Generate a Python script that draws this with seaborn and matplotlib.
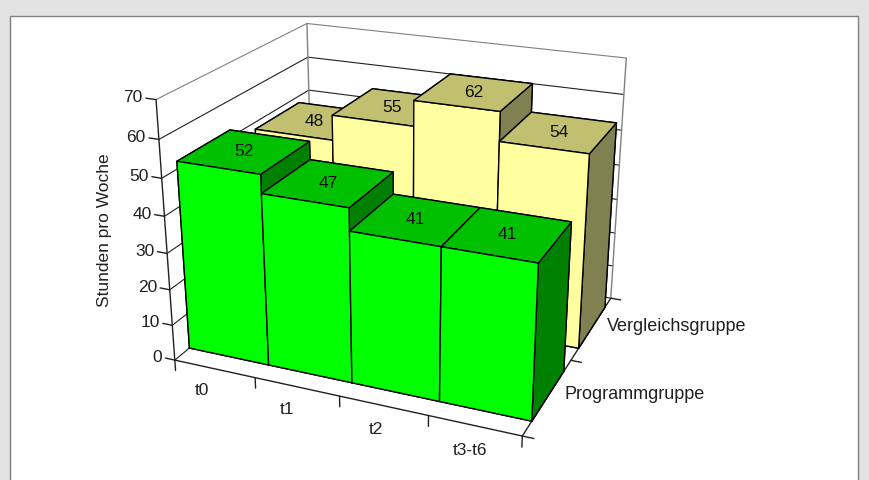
import matplotlib
matplotlib.use("Agg")
import matplotlib.pyplot as plt
import seaborn as sns
from matplotlib.patches import Rectangle

sns.set_theme(style="white")
plt.rcParams['font.family'] = ['Liberation Sans', 'DejaVu Sans']

zeit = ["t0", "t1", "t2", "t3-t6"]
gruppen = ["Programmgruppe", "Vergleichsgruppe"]
programm = [52, 47, 41, 41]
vergleich = [48, 55, 62, 54]
z_ticks = [0, 10, 20, 30, 40, 50, 60, 70]

dunkel = "#202020"
grau = "#808080"

fig = plt.figure(figsize=(8.69, 4.80), dpi=100, facecolor="#e3e3e3")
fig.add_artist(Rectangle((10/869, -0.01), 848/869, 1 - 16/480 + 0.01, transform=fig.transFigure,
                         fc="white", ec=grau, lw=1, zorder=-5))
ax = fig.add_axes([0.033, 0.003, 0.845, 1.10], projection="3d", facecolor="none")
ax.set_proj_type("persp", focal_length=0.47)
ax.view_init(elev=22, azim=-67)
ax.set_box_aspect((1.3, 1.1, 0.97))
ax.set_xlim(0, 4)
ax.set_ylim(0, 2)
ax.set_zlim(0, 70)
ax.set_axis_off()

# walls, axis lines and ticks
for z in z_ticks:
    c = grau if z == 70 else dunkel
    ax.plot([0, 0, 4], [0, 2, 2], [z, z, z], color=c, lw=0.8, zorder=1)
    ax.plot([-0.12, 0], [0, 0], [z, z], color=dunkel, lw=1, zorder=1)
    ax.text(-0.16, 0, z, str(z), ha="right", va="center", fontsize=12.5, color="#202020")
ax.plot([0, 0], [2, 2], [0, 70], color=grau, lw=1, zorder=1)
ax.plot([4, 4], [2, 2], [0, 70], color=grau, lw=1, zorder=1)
ax.plot([0, 0], [0, 0], [0, 70], color=dunkel, lw=1, zorder=1)
ax.plot([0, 4, 4], [0, 0, 2], [0, 0, 0], color=dunkel, lw=1, zorder=1)
for i in range(len(zeit) + 1):
    ax.plot([i, i], [0, 0], [0, -3], color=dunkel, lw=1, zorder=1)
for g in range(len(gruppen) + 1):
    ax.plot([4, 4.12], [g, g], [0, 0], color=dunkel, lw=1, zorder=1)

farben = [("#00ff00", "#00c000", "#008000"), ("#ffffa0", "#c0c070", "#808050")]
xs, ys, hs, cols = [], [], [], []
for g, werte in enumerate([programm, vergleich]):
    front, top, side = farben[g]
    for i, w in enumerate(werte):
        xs.append(i)
        ys.append(g + 0.18)
        hs.append(w)
        cols += [front, top, front, front, front, side]
        ax.text(i + 0.5, g + 0.5, w, str(w), ha="center", va="center", fontsize=12.5, color="#101010", zorder=100)
ax.bar3d(xs, ys, 0, 1, 0.66, hs, color=cols, shade=False, edgecolor="black", linewidth=1, zsort="max")

for i, z in enumerate(zeit):
    ax.text(i + 0.62, -0.27, 0, z, ha="center", va="center", fontsize=12.5, color="#202020")
for g, name in enumerate(gruppen):
    ax.text(4.15, g + 0.56, 0, name, ha="left", va="center", fontsize=13, color="#202020")
fig.text(104/869, 1 - 230/480, "Stunden pro Woche", rotation=90, ha="center", va="center",
         fontsize=12.5, color="#202020")

fig.savefig("out.png", dpi=100, facecolor=fig.get_facecolor())
